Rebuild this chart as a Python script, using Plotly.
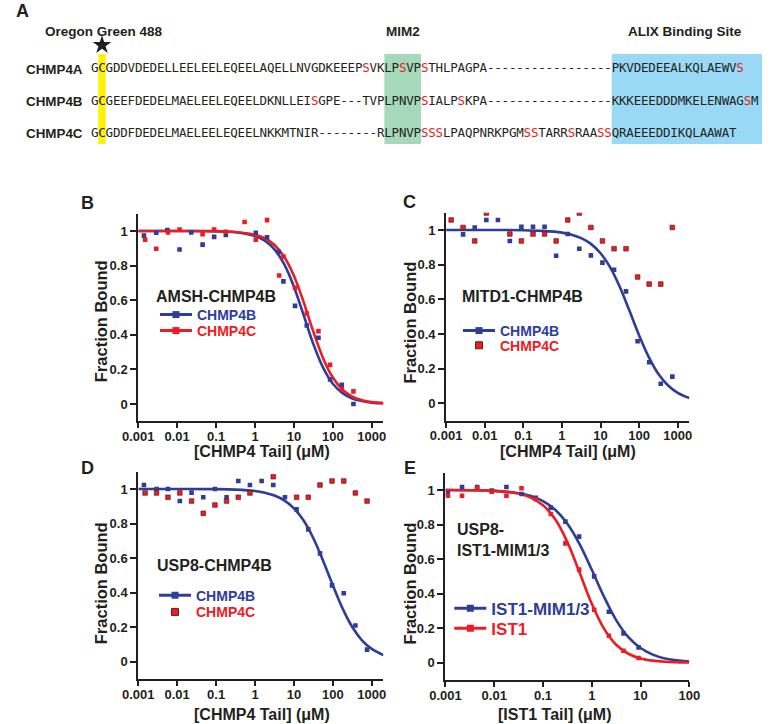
import plotly.graph_objects as go

W, H = 773, 724
INK = '#231f20'
BLUE = '#2e3d98'
RED = '#ed1c24'
YELLOW = '#fff200'
GREEN = '#a6d9ba'
SKY = '#9ad9f5'

# ---------------- Panel A data ----------------
row_names = ["CHMP4A", "CHMP4B", "CHMP4C"]
seq_4a = "GCGDDVDEDELLEELEELEQEELAQELLNVGDKEEEPSVK" + "LPSVP" + "STHLPAGPA" + "-" * 17 + "PKVDEDEEALKQLAEWVS"
seq_4b = "GCGEEFDEDELMAELEELEQEELDKNLLEISGPE" + "---" + "TVP" + "LPNVP" + "SIALPSKPA" + "-" * 17 + "KKKEEEDDDMKELENWAGSM"
seq_4c = "GCGDDFDEDELMAELEELEQEELNKKMTNIR" + "-" * 8 + "R" + "LPNVP" + "SSSLPAQPNRKPGMSSTARRSRAASS" + "QRAEEEDDIKQLAAWAT"
sequences = [seq_4a, seq_4b, seq_4c]
red_sites_4a = [37, 42, 45, 88]
red_sites_4b = [30, 45, 50, 89]
red_sites_4c = [45, 46, 47, 59, 60, 65, 69, 70]
red_sites = [red_sites_4a, red_sites_4b, red_sites_4c]
dye_site = 1
mim2_region = (40, 44)
alix_start = 71
region_labels = ["Oregon Green 488", "MIM2", "ALIX Binding Site"]

# ---------------- Panel B data ----------------
b_4b_x = [0.0014, 0.0029, 0.0056, 0.0115, 0.023, 0.045, 0.089, 0.178, 1.05, 2.04, 4.07, 5.37, 10.7, 21.4, 42.7, 85, 170, 339]
b_4b_y = [0.973, 0.99, 1.006, 0.893, 0.992, 0.921, 0.966, 0.977, 0.99, 0.964, 0.879, 0.709, 0.567, 0.454, 0.383, 0.142, 0.111, 0.0]
b_4c_x = [0.0015, 0.0029, 0.0058, 0.0115, 0.045, 0.089, 0.178, 0.54, 1.05, 2.04, 4.17, 5.37, 10.7, 21.4, 42.7, 85, 170, 339]
b_4c_y = [0.95, 0.897, 0.992, 1.008, 0.981, 1.008, 0.996, 1.052, 0.95, 1.063, 0.743, 0.852, 0.672, 0.523, 0.421, 0.226, 0.086, 0.073]
fit_x = [0.001, 0.01, 0.1, 0.316, 1, 1.78, 3.16, 5.62, 10, 17.8, 31.6, 56.2, 100, 178, 316, 562, 1000, 1995]
b_fit_4b = [1.0, 1.0, 0.998, 0.993, 0.971, 0.944, 0.894, 0.808, 0.678, 0.514, 0.346, 0.21, 0.117, 0.063, 0.032, 0.017, 0.008, 0.004]
b_fit_4c = [1.0, 1.0, 0.999, 0.994, 0.977, 0.958, 0.919, 0.851, 0.741, 0.589, 0.418, 0.265, 0.153, 0.083, 0.043, 0.022, 0.011, 0.005]

# ---------------- Panel C data ----------------
c_4b_x = [0.00275, 0.0055, 0.011, 0.022, 0.0447, 0.089, 0.178, 0.355, 0.708, 1.41, 2.82, 5.62, 11.2, 22.4, 45.7, 91.2, 182, 363, 724]
c_4b_y = [0.975, 1.015, 1.058, 1.058, 0.937, 1.019, 1.019, 1.019, 0.852, 0.977, 0.892, 0.854, 0.812, 0.771, 0.646, 0.358, 0.237, 0.113, 0.154]
c_4c_x = [0.00135, 0.00275, 0.0055, 0.011, 0.0447, 0.089, 0.178, 0.355, 0.708, 1.41, 2.82, 5.62, 11.2, 22.4, 45.7, 91.2, 182, 363, 724]
c_4c_y = [1.058, 1.015, 0.937, 1.098, 0.977, 0.937, 0.977, 0.977, 0.937, 1.058, 1.098, 1.015, 0.937, 0.892, 0.892, 0.729, 0.688, 0.688, 1.015]
c_fit_4b = [1.0, 1.0, 0.999, 0.995, 0.985, 0.973, 0.953, 0.92, 0.866, 0.784, 0.671, 0.534, 0.392, 0.267, 0.169, 0.103, 0.061, 0.031]

# ---------------- Panel D data ----------------
d_4b_x = [0.0014, 0.00295, 0.0058, 0.0117, 0.0234, 0.0468, 0.0933, 0.186, 0.372, 0.741, 1.48, 2.95, 5.89, 11.7, 23.4, 46.8, 95.5, 191, 380, 759]
d_4b_y = [1.023, 1.0, 1.0, 0.93, 0.979, 0.952, 1.0, 0.952, 1.046, 1.023, 1.046, 1.023, 0.952, 0.882, 0.766, 0.627, 0.442, 0.396, 0.21, 0.07]
d_4c_x = [0.0015, 0.00295, 0.0058, 0.0117, 0.0234, 0.0468, 0.0933, 0.186, 0.372, 0.741, 2.95, 11.7, 23.4, 46.8, 95.5, 191, 380, 759]
d_4c_y = [0.977, 0.977, 0.952, 0.977, 0.93, 0.859, 0.907, 0.93, 0.952, 0.977, 1.071, 0.952, 0.952, 1.023, 1.046, 1.046, 0.977, 0.93]
d_fit_4b = [1.0, 1.0, 0.999, 0.996, 0.988, 0.978, 0.962, 0.934, 0.888, 0.817, 0.715, 0.585, 0.443, 0.309, 0.201, 0.124, 0.074, 0.038]

# ---------------- Panel E data ----------------
e_x = [0.00112, 0.00219, 0.00447, 0.0089, 0.0178, 0.0363, 0.0708, 0.1445, 0.288, 0.55, 1.12, 2.24, 4.47, 9.12]
e_mim_y = [0.981, 1.017, 1.017, 0.996, 1.017, 0.977, 0.954, 0.898, 0.817, 0.73, 0.5, 0.295, 0.17, 0.089]
e_ist1_y = [0.967, 0.967, 1.01, 0.99, 0.967, 1.01, 0.946, 0.861, 0.691, 0.539, 0.307, 0.156, 0.069, 0.027]
e_fit_x = [0.001, 0.01, 0.0316, 0.0562, 0.1, 0.178, 0.316, 0.562, 1, 1.78, 3.16, 5.62, 10, 17.8, 31.6, 100]
e_fit_mim = [1.0, 0.995, 0.981, 0.965, 0.936, 0.886, 0.805, 0.687, 0.538, 0.382, 0.247, 0.148, 0.085, 0.047, 0.025, 0.007]
e_fit_ist1 = [1.0, 0.995, 0.979, 0.956, 0.912, 0.83, 0.698, 0.522, 0.341, 0.197, 0.104, 0.052, 0.025, 0.012, 0.006, 0.001]

conc_ticks = [0.001, 0.01, 0.1, 1, 10, 100, 1000]
conc_ticktext = ["0.001", "0.01", "0.1", "1", "10", "100", "1000"]
frac_ticks = [0, 0.2, 0.4, 0.6, 0.8, 1]
frac_ticktext = ["0", "0.2", "0.4", "0.6", "0.8", "1"]

# ---------------- figure ----------------
fig = go.Figure()

# Panel A: per-residue text
for r, (seq, reds) in enumerate(zip(sequences, red_sites)):
    idx = list(range(len(seq)))
    fig.add_trace(go.Scatter(
        x=idx, y=[r] * len(seq), mode='text', text=list(seq),
        textposition='middle center',
        textfont=dict(family='DejaVu Sans Mono', size=12.5,
                      color=[RED if i in reds else INK for i in idx]),
        xaxis='x', yaxis='y', showlegend=False, hoverinfo='skip', cliponaxis=False))

# star marking the dye site
fig.add_trace(go.Scatter(x=[dye_site], y=[-0.75], mode='markers',
                         marker=dict(symbol='star', size=14, color=INK),
                         xaxis='x', yaxis='y', showlegend=False, hoverinfo='skip', cliponaxis=False))

def add_curve(x, y, color, ax):
    fig.add_trace(go.Scatter(x=x, y=y, mode='lines', line=dict(color=color, width=2.6, shape='spline', smoothing=1.0),
                             xaxis='x' + ax, yaxis='y' + ax, showlegend=False, hoverinfo='skip'))

def add_points(x, y, color, ax, outline=False):
    mk = dict(symbol='square', size=4.6, color=color)
    if outline:
        mk['line'] = dict(color='#5a2020', width=0.7)
    fig.add_trace(go.Scatter(x=x, y=y, mode='markers', marker=mk,
                             xaxis='x' + ax, yaxis='y' + ax, showlegend=False, hoverinfo='skip'))

def add_key(name, color, ax, legend, with_line=True, outline=False):
    mk = dict(symbol='square', size=7, color=color)
    if outline:
        mk['line'] = dict(color='#5a2020', width=1)
    fig.add_trace(go.Scatter(x=[None], y=[None], mode='lines+markers' if with_line else 'markers',
                             line=dict(color=color, width=3), marker=mk, name=name,
                             xaxis='x' + ax, yaxis='y' + ax, legend=legend, showlegend=True))

# B
add_curve(fit_x, b_fit_4b, BLUE, '2')
add_curve(fit_x, b_fit_4c, RED, '2')
add_points(b_4b_x, b_4b_y, BLUE, '2')
add_points(b_4c_x, b_4c_y, RED, '2')
add_key('CHMP4B', BLUE, '2', 'legend')
add_key('CHMP4C', RED, '2', 'legend2')
# C
add_curve(fit_x, c_fit_4b, BLUE, '3')
add_points(c_4b_x, c_4b_y, BLUE, '3')
add_points(c_4c_x, c_4c_y, RED, '3', outline=True)
add_key('CHMP4B', BLUE, '3', 'legend3')
add_key('CHMP4C', RED, '3', 'legend4', with_line=False, outline=True)
# D
add_curve(fit_x, d_fit_4b, BLUE, '4')
add_points(d_4b_x, d_4b_y, BLUE, '4')
add_points(d_4c_x, d_4c_y, RED, '4', outline=True)
add_key('CHMP4B', BLUE, '4', 'legend5')
add_key('CHMP4C', RED, '4', 'legend6', with_line=False, outline=True)
# E
add_curve(e_fit_x, e_fit_mim, BLUE, '5')
add_curve(e_fit_x, e_fit_ist1, RED, '5')
add_points(e_x, e_mim_y, BLUE, '5')
add_points(e_x, e_ist1_y, RED, '5')
add_key('IST1-MIM1/3', BLUE, '5', 'legend7')
add_key('IST1', RED, '5', 'legend8')

# ---------------- layout ----------------
def px(xp):
    return xp / W

def py(yp):
    return 1 - yp / H

layout = dict(
    width=W, height=H, margin=dict(l=0, r=0, t=0, b=0),
    paper_bgcolor='white', plot_bgcolor='white',
    font=dict(family='Liberation Sans', color=INK),
    xaxis=dict(domain=[0, 1], range=[-10.724, 90.987], visible=False),
    yaxis=dict(domain=[py(160), 1], range=[2.804, -2.142], visible=False),
)

panel_geom = {
    '2': dict(xd=(126.7, 380.7), yd=(213.7, 421.3), xr=[-3, 3.3]),
    '3': dict(xd=(445.7, 697.7), yd=(212.7, 420.7), xr=[-3, 3.3]),
    '4': dict(xd=(126.7, 380.7), yd=(471.7, 679.0), xr=[-3, 3.3]),
    '5': dict(xd=(445.0, 697.7), yd=(472.7, 680.0), xr=[-3, 2]),
}
tickfont = dict(family='Liberation Sans', size=13, color=INK, weight='bold')
for k, g in panel_geom.items():
    layout['xaxis' + k] = dict(domain=[px(g['xd'][0]), px(g['xd'][1])], type='log', range=g['xr'],
                               tickmode='array', tickvals=conc_ticks, ticktext=conc_ticktext,
                               ticks='outside', ticklen=5, tickwidth=2, tickcolor=INK, ticklabelstandoff=-3,
                               showline=True, linewidth=2, linecolor=INK, showgrid=False, zeroline=False,
                               tickfont=tickfont, anchor='y' + k)
    layout['yaxis' + k] = dict(domain=[py(g['yd'][1]), py(g['yd'][0])], range=[-0.1, 1.1],
                               tickmode='array', tickvals=frac_ticks, ticktext=frac_ticktext,
                               ticks='outside', ticklen=6, tickwidth=2, tickcolor=INK,
                               showline=True, linewidth=2, linecolor=INK, showgrid=False, zeroline=False,
                               tickfont=tickfont, anchor='x' + k)

# legend left edges chosen so that the key marker sits where the reference draws it
legend_pos = {
    'legend': (144, 315, BLUE, 14), 'legend2': (144, 331, RED, 14),
    'legend3': (458, 331, BLUE, 14), 'legend4': (458, 345.7, RED, 14),
    'legend5': (143, 595.7, BLUE, 14), 'legend6': (143, 612.3, RED, 14),
    'legend7': (449, 608.7, BLUE, 17), 'legend8': (449, 628.7, RED, 17),
}
for name, (lx, ly, col, fs) in legend_pos.items():
    layout[name] = dict(x=px(lx), y=py(ly), xanchor='left', yanchor='middle', xref='paper', yref='paper',
                        bgcolor='rgba(0,0,0,0)', borderwidth=0, itemwidth=32,
                        font=dict(family='Liberation Sans', size=fs, color=col, weight='bold'))

annotations = []

def ann(text, x, y, size, color=INK, xanchor='center', yanchor='middle', angle=0, bold=True,
        family='Liberation Sans', xref='paper', yref='paper', align='center'):
    annotations.append(dict(text=text, x=x, y=y, xref=xref, yref=yref, showarrow=False,
                            xanchor=xanchor, yanchor=yanchor, textangle=angle, align=align,
                            font=dict(family=family, size=size, color=color,
                                      weight='bold' if bold else 'normal')))

# panel letters
ann('A', px(7), py(11), 18)
ann('B', px(73.7), py(203), 18)
ann('C', px(407.5), py(202), 18)
ann('D', px(73.7), py(468.3), 18)
ann('E', px(408), py(468.3), 18)

# panel A labels
for r, nm in enumerate(row_names):
    ann(nm, px(8.3), r, 13.4, xanchor='left', yref='y')
ann(region_labels[0], dye_site + 0.25, -1.16, 13.5, xref='x', yref='y')
ann(region_labels[1], (mim2_region[0] + mim2_region[1]) / 2, -1.16, 13.5, xref='x', yref='y')
ann(region_labels[2], 80.5, -1.16, 13.5, xref='x', yref='y')

# panel titles inside plots
ann('AMSH-CHMP4B', px(143.3), py(296.7), 16, xanchor='left')
ann('MITD1-CHMP4B', px(460), py(296.7), 16, xanchor='left')
ann('USP8-CHMP4B', px(144), py(565), 16, xanchor='left')
ann('USP8-<br>IST1-MIM1/3', px(455), py(540), 16, xanchor='left', align='left')

# axis titles
ann('Fraction Bound', px(88.3), py(321), 16.5, angle=-90)
ann('Fraction Bound', px(407.3), py(322.5), 16.5, angle=-90)
ann('Fraction Bound', px(88.3), py(583), 16.5, angle=-90)
ann('Fraction Bound', px(407.3), py(583.5), 16.5, angle=-90)
ann('[CHMP4 Tail] (μM)', px(255), py(451.5), 16)
ann('[CHMP4 Tail] (μM)', px(572), py(452), 16)
ann('[CHMP4 Tail] (μM)', px(255), py(714.5), 16)
ann('[IST1 Tail] (μM)', px(558.3), py(714.5), 16)

layout['annotations'] = annotations

shapes = [
    dict(type='rect', xref='x', yref='y', x0=dye_site - 0.5, x1=dye_site + 0.5, y0=-0.473, y1=2.309,
         fillcolor=YELLOW, line=dict(width=0), layer='below'),
    dict(type='rect', xref='x', yref='y', x0=mim2_region[0] - 0.5, x1=mim2_region[1] + 0.5, y0=-0.473, y1=2.309,
         fillcolor=GREEN, line=dict(width=0), layer='below'),
    dict(type='rect', xref='x', yref='y', x0=alix_start - 0.5, x1=90.987, y0=-0.473, y1=2.309,
         fillcolor=SKY, line=dict(width=0), layer='below'),
]
layout['shapes'] = shapes

fig.update_layout(**layout)
fig.write_html('out.html', config={'displayModeBar': False},
               post_script="document.body.style.margin='0px';"
                           "document.documentElement.style.overflow='hidden';"
                           "document.body.style.overflow='hidden';")
